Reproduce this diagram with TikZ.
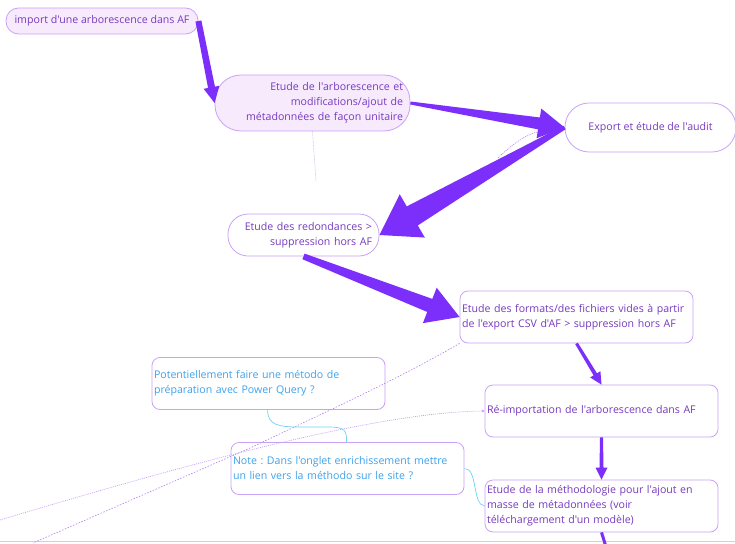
\documentclass[tikz,border=0pt]{standalone}
\usepackage{fontspec}
\setmainfont{Open Sans}[Ligatures=TeXOff]
\usetikzlibrary{calc,arrows.meta}
\definecolor{arrowcol}{RGB}{124,47,250}
\definecolor{bordercol}{RGB}{200,162,246}
\definecolor{txtpurple}{RGB}{118,58,190}
\definecolor{txtblue}{RGB}{62,162,236}
\definecolor{lavfill}{RGB}{247,234,253}
\definecolor{cyanline}{RGB}{110,212,246}
\definecolor{dashcol}{RGB}{176,128,245}
\definecolor{dotcol}{RGB}{205,175,248}
\newcommand{\taparrow}[6]{%
  \coordinate (ta-s) at (#1);
  \coordinate (ta-t) at (#2);
  \coordinate (ta-n) at ($(ta-t)!#5!(ta-s)$);
  \fill[arrowcol] ($(ta-s)!#3!90:(ta-t)$) -- ($(ta-n)!#4!-90:(ta-s)$) -- ($(ta-n)!#6!-90:(ta-s)$) -- (ta-t)
    -- ($(ta-n)!#6!90:(ta-s)$) -- ($(ta-n)!#4!90:(ta-s)$) -- ($(ta-s)!#3!-90:(ta-t)$) -- cycle;
}
\frenchspacing
\begin{document}
\begin{tikzpicture}[x=1pt,y=-1pt,
  every node/.style={font=\fontsize{10.6}{15}\selectfont},
  box/.style={draw=bordercol, line width=0.8pt, fill=white, text=txtpurple, inner ysep=0pt},
  pill/.style={box, rounded corners=#1},
  rbox/.style={box, rounded corners=8pt, minimum width=233pt, minimum height=52pt,
     text width=229pt, align=left, inner xsep=2pt},
  bluebox/.style={rbox, text=txtblue},
  dashline/.style={draw=dashcol, line width=0.6pt, dash pattern=on 1.5pt off 1.5pt},
  dotline/.style={draw=dotcol, line width=0.6pt, dash pattern=on 1pt off 1pt},
  cyanconn/.style={draw=cyanline, line width=0.7pt}
]
\useasboundingbox (0,0) rectangle (735,543);
\fill[white] (0,0) rectangle (735,543);
\draw[black!18, line width=1pt] (0,541.5) -- (735,541.5);

% nodes
\node[pill=12.5pt, fill=lavfill, minimum width=192pt, minimum height=26pt, align=center] (n1) at (102,21)
  {import d'une arborescence dans AF};
\node[pill=26pt, fill=lavfill, minimum width=195pt, minimum height=56pt, text width=181pt, align=right, inner xsep=7pt] (n2) at (312.5,103)
  {Etude de l'arborescence et\\modifications/ajout de\\métadonnées de façon unitaire};
\node[pill=24pt, minimum width=171pt, minimum height=49pt, align=center] (n3) at (650.5,127.5)
  {Export et étude de l'audit};
\node[pill=20pt, minimum width=151pt, minimum height=42pt, text width=137pt, align=right, inner xsep=7pt] (n4) at (303.5,235)
  {Etude des redondances >\\suppression hors AF};
\node[rbox] (n5) at (576.5,317)
  {Etude des formats/des fichiers vides à partir\\de l'export CSV d'AF > suppression hors AF};
\node[bluebox] (n6) at (268.5,383.5)
  {Potentiellement faire une método de\\préparation avec Power Query ?};
\node[rbox] (n7) at (601.5,411)
  {Ré-importation de l'arborescence dans AF};
\node[bluebox] (n8) at (347.5,468.5)
  {Note : Dans l'onglet enrichissement mettre\\un lien vers la méthodo sur le site ?};
\node[rbox] (n9) at (601.5,506)
  {Etude de la méthodologie pour l'ajout en\\masse de métadonnées (voir\\téléchargement d'un modèle)};

% dashed / dotted relations
\coordinate (d1end) at (316,181);
\draw[dotline] (n2.south) -- (d1end);
\coordinate (d2a) at (537,132);
\coordinate (d2b) at (498,158);
\draw[dotline, draw=dashcol] (d2a) .. controls (525,135) and (510,146) .. (d2b);
\coordinate (l2end) at (33,543);
\draw[dashline] (n5.south west) .. controls (400,378) and (330,410) .. (250,448) -- (l2end);
\coordinate (l1end) at (0,520);
\draw[dotline, draw=dashcol!80, -{Stealth[length=3pt,width=3pt]}] (l1end) .. controls (200,460) and (380,412) .. (n7.west);

% cyan connectors
\draw[cyanconn] ($(n6.south west)+(116,0)$) .. controls +(0,15) and +(-22,0) .. (300,427) -- (328,427)
   .. controls +(17,0) and +(0,-12) .. ($(n8.north west)+(116,0)$);
\draw[cyanconn] (n8.east) .. controls (478,468) and (472,505) .. (n9.west);

% thick arrows
\taparrow{n1.east}{n2.west}{3pt}{3.5pt}{16pt}{8pt}
\taparrow{n2.east}{n3.west}{1.5pt}{6pt}{26pt}{15pt}
\taparrow{n3.west}{n4.east}{2pt}{11pt}{38pt}{25pt}
\taparrow{n4.south}{n5.west}{3pt}{7pt}{32pt}{19pt}
\taparrow{n5.south}{n7.north}{1.5pt}{2pt}{12pt}{6pt}
\taparrow{n7.south}{n9.north}{1.5pt}{2pt}{12pt}{6pt}
\coordinate (a7end) at (607,550);
\draw[arrowcol, line width=3pt] (n9.south) -- (a7end);
\end{tikzpicture}
\end{document}
